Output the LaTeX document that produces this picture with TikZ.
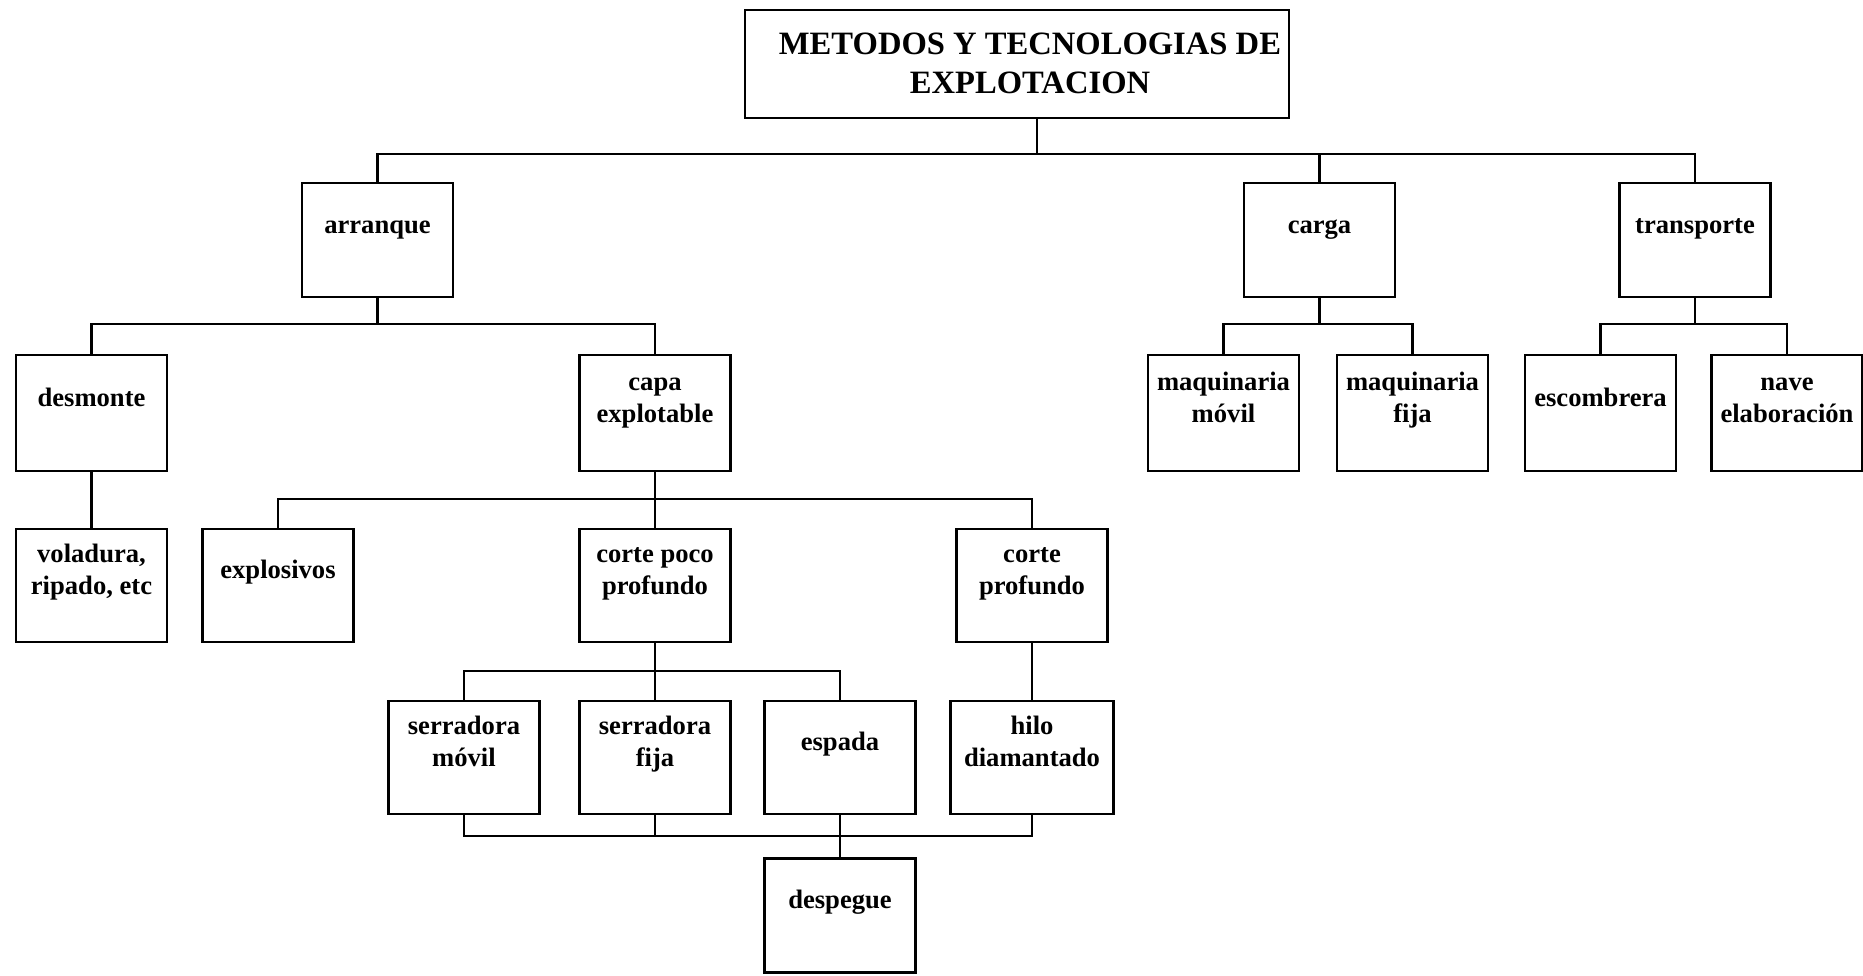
\documentclass[tikz,border=0pt]{standalone}
\usepackage{fontspec}
\setmainfont{Liberation Serif}
\newcommand{\boxtext}[1]{\begin{tabular}{@{}c@{}}#1\end{tabular}}

\begin{document}
\begin{tikzpicture}[x=0.5pt,y=-0.5pt,
    caja/.style={draw,line width=1.4pt,inner sep=0pt,minimum width=75.5pt,minimum height=57pt},
    texto/.style={font=\fontsize{13.3}{16}\selectfont\bfseries,yshift=6.7pt},
    titulo/.style={font=\fontsize{16.3}{19.5}\selectfont\bfseries,xshift=6.5pt,yshift=-1.3pt},
    linea/.style={line width=1.1pt}]
    \useasboundingbox (0,0) rectangle (1863,975);
    \node[caja,minimum width=272pt,minimum height=54pt,
          label={[titulo]center:\boxtext{METODOS Y TECNOLOGIAS DE\\EXPLOTACION}}] (metodos) at (1017,64) {};
    \node[caja,label={[texto]center:\boxtext{arranque}}] (arranque) at (377.5,240) {};
    \node[caja,label={[texto]center:\boxtext{carga}}] (carga) at (1319.5,240) {};
    \node[caja,label={[texto]center:\boxtext{transporte}}] (transporte) at (1695,240) {};
    \node[caja,minimum height=58pt,label={[texto]center:\boxtext{desmonte}}] (desmonte) at (91.5,413) {};
    \node[caja,minimum height=58pt,label={[texto]center:\boxtext{capa\\explotable}}] (capa) at (655,413) {};
    \node[caja,minimum height=58pt,label={[texto]center:\boxtext{maquinaria\\móvil}}] (maqmovil) at (1223.5,413) {};
    \node[caja,minimum height=58pt,label={[texto]center:\boxtext{maquinaria\\fija}}] (maqfija) at (1412.5,413) {};
    \node[caja,minimum height=58pt,label={[texto]center:\boxtext{escombrera}}] (escombrera) at (1600.5,413) {};
    \node[caja,minimum height=58pt,label={[texto]center:\boxtext{nave\\elaboración}}] (nave) at (1787,413) {};
    \node[caja,minimum height=56.5pt,label={[texto]center:\boxtext{voladura,\\ripado, etc}}] (voladura) at (91.5,585.5) {};
    \node[caja,minimum height=56.5pt,label={[texto]center:\boxtext{explosivos}}] (explosivos) at (278,585.5) {};
    \node[caja,minimum height=56.5pt,label={[texto]center:\boxtext{corte poco\\profundo}}] (cortepoco) at (655,585.5) {};
    \node[caja,minimum height=56.5pt,label={[texto]center:\boxtext{corte\\profundo}}] (corteprof) at (1032,585.5) {};
    \node[caja,minimum height=56.5pt,label={[texto]center:\boxtext{serradora\\móvil}}] (smovil) at (464,757.5) {};
    \node[caja,minimum height=56.5pt,label={[texto]center:\boxtext{serradora\\fija}}] (sfija) at (655,757.5) {};
    \node[caja,minimum height=56.5pt,label={[texto]center:\boxtext{espada}}] (espada) at (840,757.5) {};
    \node[caja,minimum height=56.5pt,minimum width=81.5pt,label={[texto]center:\boxtext{hilo\\diamantado}}] (hilo) at (1032,757.5) {};
    \node[caja,label={[texto]center:\boxtext{despegue}}] (despegue) at (840,915.5) {};
    \coordinate (b1) at (0,154);
    \coordinate (b2) at (0,324);
    \coordinate (b3) at (0,499);
    \coordinate (b4) at (0,671);
    \coordinate (b5) at (0,836);
    \coordinate (mt) at ([xshift=10pt]metodos.south);
    \draw[linea] (mt) -- (mt |- b1);
    \draw[linea] (arranque.north) |- (transporte.north |- b1) -- (transporte.north);
    \draw[linea] (carga.north) -- (carga.north |- b1);
    \draw[linea] (arranque.south) -- (arranque.south |- b2);
    \draw[linea] (desmonte.north) |- (capa.north |- b2) -- (capa.north);
    \draw[linea] (carga.south) -- (carga.south |- b2);
    \draw[linea] (maqmovil.north) |- (maqfija.north |- b2) -- (maqfija.north);
    \draw[linea] (transporte.south) -- (transporte.south |- b2);
    \draw[linea] (escombrera.north) |- (nave.north |- b2) -- (nave.north);
    \draw[linea] (desmonte.south) -- (voladura.north);
    \draw[linea] (capa.south) -- (capa.south |- b3);
    \draw[linea] (explosivos.north) |- (corteprof.north |- b3) -- (corteprof.north);
    \draw[linea] (cortepoco.north) -- (cortepoco.north |- b3);
    \draw[linea] (cortepoco.south) -- (cortepoco.south |- b4);
    \draw[linea] (smovil.north) |- (espada.north |- b4) -- (espada.north);
    \draw[linea] (sfija.north) -- (sfija.north |- b4);
    \draw[linea] (corteprof.south) -- (hilo.north);
    \draw[linea] (smovil.south) |- (hilo.south |- b5) -- (hilo.south);
    \draw[linea] (sfija.south) -- (sfija.south |- b5);
    \draw[linea] (espada.south) -- (despegue.north);
\end{tikzpicture}
\end{document}
